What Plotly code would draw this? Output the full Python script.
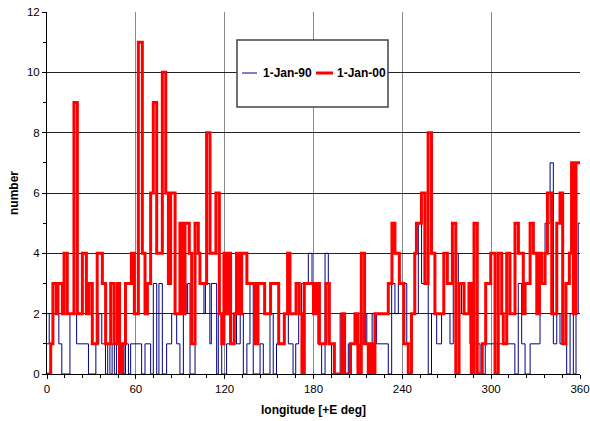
import plotly.graph_objects as go

# ---- data: step start longitudes (deg E) and counts ----
series_names = ["1-Jan-90", "1-Jan-00"]

lon_1990 = [0, 1.5, 8, 10, 15.5, 20, 28, 33, 35, 37, 39.5, 41, 42.5, 44, 45.5, 47, 48.5,
            50.5, 52, 53, 55, 56.5, 63.9, 66.2, 70, 71.8, 74.1, 75.6, 77.9, 80.8, 84.2,
            87.6, 89.8, 92.1, 94, 95, 96.6, 100, 103.3, 106, 107, 110, 111, 114.6, 115.7,
            118, 121.3, 123.6, 128, 130.5, 132.6, 135, 137.1, 139.3, 143.9, 146.1, 150.6,
            152.8, 155, 160, 163, 166.2, 168, 170, 172, 176.5, 179, 183, 185.5, 187.8, 190,
            192.2, 198, 200.1, 203.5, 210, 211.3, 213.5, 216, 219.6, 222.6, 230.5, 232.8,
            235, 237.3, 243, 246.3, 250.8, 253, 257.5, 259.7, 263.2, 266.5, 272.2, 274.4,
            277.8, 280, 285.7, 292.5, 296, 316, 318.3, 320.6, 322.9, 326.3, 333, 336.4,
            339.8, 342, 344.3, 346.5, 351, 353.3, 355.5, 357.3, 358.8]
num_1990 = [1, 2, 1, 0, 2, 1, 0, 1, 2, 1, 0, 1, 0, 1, 0, 1, 0,
            1, 0, 1, 0, 1, 0, 1, 0, 3, 0, 3, 0, 1, 2,
            1, 0, 3, 2, 3, 0, 4, 3, 2, 3, 1, 3, 0, 2,
            0, 1, 2, 1, 2, 0, 1, 3, 0, 1, 0, 2,
            0, 1, 2, 1, 0, 1, 2, 3, 4, 3, 1, 0, 4, 1,
            0, 2, 0, 1, 0, 1, 2, 1, 2, 1, 0, 3,
            2, 3, 1, 2, 5, 3, 0, 2, 1, 2, 1, 4,
            3, 2, 1, 0, 1, 0, 3, 1, 0, 1, 3, 5,
            7, 1, 2, 1, 0, 2, 0, 2, 5]

lon_2000 = [0, 2.5, 4, 6.3, 7.4, 10.4, 11.5, 13.7, 18.2, 20.5, 23.9, 26.6, 28.4, 30.6,
            33.9, 37.4, 39.6, 43, 45.3, 47.5, 49, 51, 53, 57, 59, 61.7, 64.4, 66.2, 67.8,
            70, 71.8, 74.1, 77.9, 80.2, 82, 83.5, 86.5, 89.8, 91.6, 93.2, 96.1, 97.7, 100,
            102.2, 103.3, 107.8, 110.1, 114.1, 116.4, 118, 119.5, 121, 122.5, 124, 126.5,
            128, 129.5, 131.5, 135, 140.5, 142.5, 147, 151, 156.5, 160.3, 162.5, 164.1,
            168.2, 170.4, 172.2, 173.8, 180, 182, 184, 188.4, 190.7, 194.1, 199.2, 201,
            205, 208, 210, 212.3, 214.5, 217, 218.5, 220, 221.5, 230.5, 233, 235, 238, 241,
            244, 246.2, 248.4, 249.5, 252.9, 255.2, 257.4, 259.7, 262, 268, 270.4, 273.8,
            276.1, 278.3, 281.7, 285, 286.6, 288.4, 290.6, 294, 296.3, 299.7, 302.6, 304.8,
            307.1, 308.2, 310.5, 312.7, 316.1, 318.4, 321.7, 322.9, 326.3, 328.5, 330.8,
            332.6, 334.1, 336.4, 338, 340.9, 344.3, 346.5, 348.3, 350.5, 352.8, 354.3,
            355.5, 357.3]
num_2000 = [0, 1, 3, 2, 3, 2, 4, 2, 9, 2, 4, 2, 3, 1,
            4, 3, 1, 3, 1, 3, 0, 1, 3, 4, 2, 11, 4, 2, 3,
            6, 9, 4, 10, 6, 3, 6, 2, 5, 2, 5, 4, 1, 5,
            4, 3, 8, 4, 6, 2, 1, 4, 2, 4, 1, 2,
            4, 2, 4, 3, 1, 3, 2, 3, 1, 2, 4, 2,
            3, 2, 0, 3, 2, 3, 1, 3, 1, 0, 2, 0,
            1, 2, 0, 4, 1, 0, 1, 0, 2, 3, 5, 4, 3, 1,
            0, 2, 4, 5, 6, 3, 8, 4, 2, 4, 3, 5,
            0, 3, 2, 3, 0, 5, 0, 1, 3, 4, 0, 4,
            2, 1, 4, 2, 5, 4, 2, 3, 5, 4, 2,
            4, 3, 4, 6, 2, 5, 6, 1, 3, 4, 7,
            2, 7]

x_ticks = [0, 60, 120, 180, 240, 300, 360]
y_ticks = [0, 2, 4, 6, 8, 10, 12]
X_END = 360


def closed(xs, ys):
    return xs + [X_END], ys + [ys[-1]]


FONT = "Liberation Sans, Arial, sans-serif"
fig = go.Figure()

bx, by = closed(lon_1990, num_1990)
rx, ry = closed(lon_2000, num_2000)
fig.add_trace(go.Scatter(x=bx, y=by, mode="lines", name=series_names[0],
                         line=dict(color="#000080", width=1, shape="hv"), showlegend=False))
fig.add_trace(go.Scatter(x=rx, y=ry, mode="lines", name=series_names[1],
                         line=dict(color="#ff0000", width=3, shape="hv"), showlegend=False))

fig.update_layout(
    width=590, height=421,
    margin=dict(l=47, r=10, t=12, b=47, autoexpand=False),
    paper_bgcolor="white", plot_bgcolor="white",
    font=dict(family=FONT, size=11.5, color="black"),
)
fig.update_xaxes(
    range=[0, 360], tickvals=x_ticks, ticktext=[str(v) for v in x_ticks],
    automargin=False,
    showline=True, linecolor="black", linewidth=1,
    ticks="outside", ticklen=4, tickcolor="black",
    showgrid=True, gridcolor="#8a8a8a", gridwidth=1, zeroline=False,
    minor=dict(dtick=12, ticks="outside", ticklen=3, tickcolor="black", showgrid=False),
    title=dict(text="<b>longitude [+E deg]</b>", font=dict(size=12), standoff=11),
)
fig.update_yaxes(
    range=[0, 12], tickvals=y_ticks, ticktext=[str(v) for v in y_ticks],
    automargin=False,
    showline=True, linecolor="black", linewidth=1,
    ticks="outside", ticklen=4, tickcolor="black",
    showgrid=True, gridcolor="#222222", gridwidth=1, zeroline=False,
    minor=dict(dtick=1, ticks="outside", ticklen=3, tickcolor="black", showgrid=False),
    title=dict(text="<b>number</b>", font=dict(size=12), standoff=5),
)

# legend box (drawn manually to match the original's compact layout)
W, H, L, T = 533.0, 362.0, 47.0, 12.0
def px2paper(xp, yp):
    return (xp - L) / W, (T + H - yp) / H

x0, y1 = px2paper(237, 40)
x1, y0 = px2paper(388, 107)
fig.add_shape(type="rect", xref="paper", yref="paper", x0=x0, x1=x1, y0=y0, y1=y1,
              line=dict(color="#444444", width=1.5), fillcolor="white", layer="above")
colors = ["#000080", "#ff0000"]
widths = [1, 3]
sample_px = [(242, 257, 262), (316, 333, 336)]
for name, c, w, (s0, s1, tx) in zip(series_names, colors, widths, sample_px):
    a, yy = px2paper(s0, 73)
    b, _ = px2paper(s1, 73)
    t, _ = px2paper(tx, 73)
    fig.add_shape(type="line", xref="paper", yref="paper", x0=a, x1=b, y0=yy, y1=yy,
                  line=dict(color=c, width=w), layer="above")
    fig.add_annotation(xref="paper", yref="paper", x=t, y=yy, xanchor="left", yanchor="middle",
                       text=f"<b>{name}</b>", showarrow=False, font=dict(size=12), borderpad=0)

fig.write_html("out.html",
               config={"displayModeBar": False},
               post_script="document.body.style.margin='0';document.body.style.padding='0';")
